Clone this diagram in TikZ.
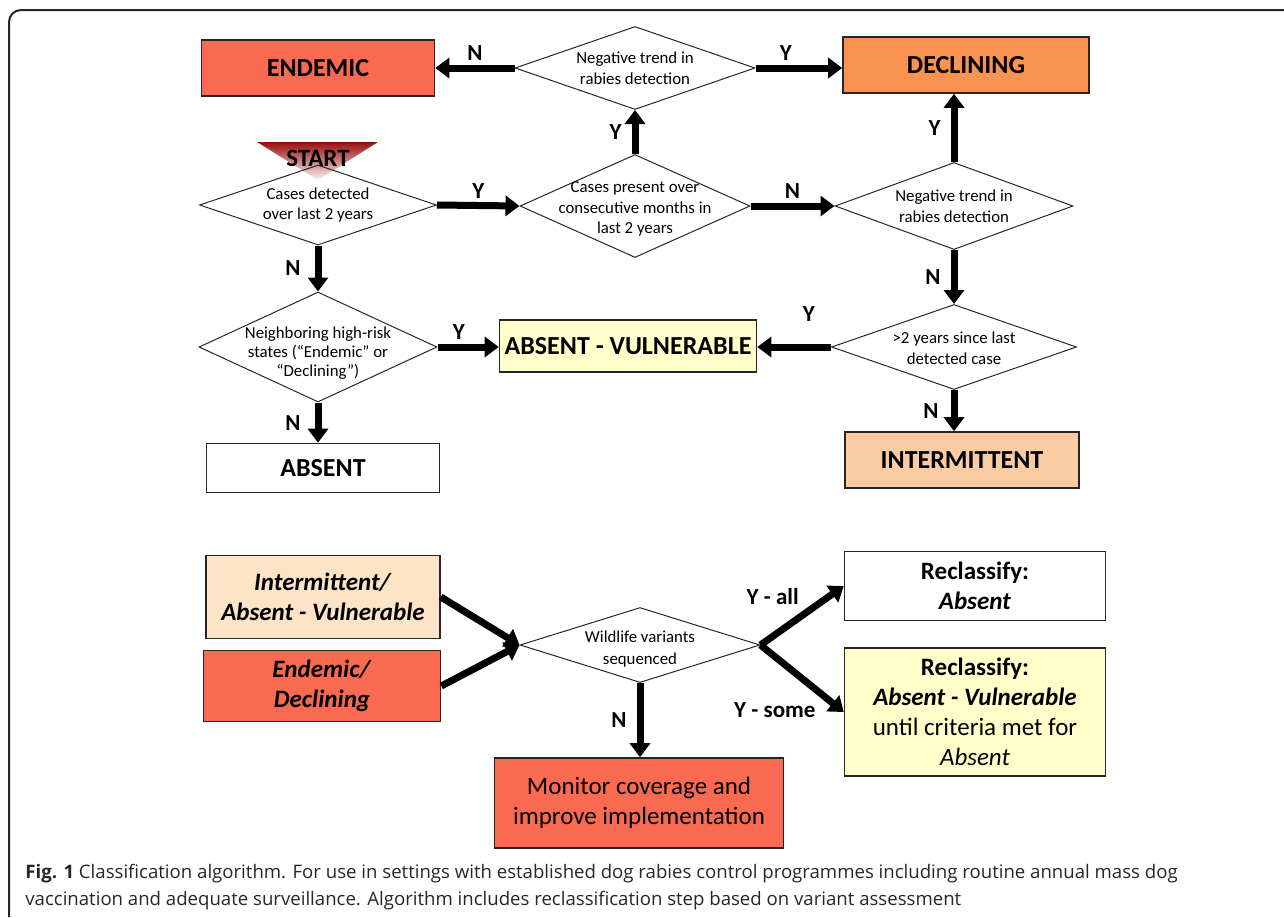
\documentclass[tikz,border=0pt]{standalone}
\usepackage{fontspec}
\setmainfont{Carlito}
\newfontfamily\capfont{Open Sans}
\usetikzlibrary{shapes.geometric,arrows.meta}
\definecolor{endemred}{RGB}{250,106,80}
\definecolor{declorange}{RGB}{250,146,80}
\definecolor{intpeach}{RGB}{251,204,164}
\definecolor{avyellow}{RGB}{255,255,204}
\definecolor{lightpeach}{RGB}{253,228,198}
\definecolor{startred}{RGB}{150,14,14}
\begin{document}
\begin{tikzpicture}[x=0.5pt,y=-0.5pt,
  box/.style={draw=black!85, line width=0.8pt, inner sep=0pt, align=center,
    font=\fontsize{13}{15}\selectfont\bfseries},
  bigbox/.style={box, font=\fontsize{12.5}{15}\selectfont\bfseries},
  dia/.style={draw=black!85, line width=0.5pt, shape=diamond, inner sep=0pt},
  diatext/.style={align=center, inner sep=0pt, font=\fontsize{8.4}{10.3}\selectfont},
  flow/.style={line width=3.5pt, -{Triangle[length=7pt,width=10pt]}},
  lbl/.style={font=\fontsize{11.5}{13}\selectfont\bfseries, inner sep=2pt}]
\useasboundingbox (0,0) rectangle (1284,917);
\draw[line width=1pt, black!85, rounded corners=6pt] (9,917) -- (9,10) -- (1284,10);
% start marker
\shade[top color=startred, middle color=red!75!black, bottom color=red!4]
  (257,142) -- (378,142) -- (318,180) -- cycle;
\node[font=\fontsize{12.5}{14}\selectfont\bfseries] (start) at (318,158) {START};
% decisions
\node[dia, minimum width=120pt, minimum height=41.5pt] (dtop) at (635,68) {};
\node[diatext] (dtopt) at (dtop) {Negative trend in\\rabies detection};
\node[dia, minimum width=118.5pt, minimum height=40pt] (d1) at (318,205) {};
\node[diatext] (d1t) at (d1) {Cases detected\\over last 2 years};
\node[dia, minimum width=115pt, minimum height=51.5pt] (d2) at (635,206) {};
\node[diatext] (d2t) at ([yshift=-1.5pt]d2.center) {Cases present over\\consecutive months in\\last 2 years};
\node[dia, minimum width=119pt, minimum height=43.5pt] (d3) at (954,206) {};
\node[diatext] (d3t) at (d3) {Negative trend in\\rabies detection};
\node[dia, minimum width=122.5pt, minimum height=42.5pt] (d4) at (954,347) {};
\node[diatext] (d4t) at ([yshift=-0.5pt]d4.center) {>2 years since last\\detected case};
\node[dia, minimum width=119pt, minimum height=55pt] (d5) at (318,347) {};
\node[diatext, font=\fontsize{8.4}{9.6}\selectfont] (d5t) at ([yshift=-3pt]d5.center)
  {Neighboring high-risk\\states (“Endemic” or\\“Declining”)};
% outcomes
\node[box, fill=endemred, minimum width=116.5pt, minimum height=28pt] (endemic) at (318,68) {ENDEMIC};
\node[box, fill=declorange, minimum width=123pt, minimum height=28pt] (decl) at (966,65) {DECLINING};
\node[box, fill=avyellow, minimum width=128.5pt, minimum height=26pt] (av) at (628,346) {ABSENT - VULNERABLE};
\node[box, fill=intpeach, minimum width=117pt, minimum height=28pt] (intm) at (962,460) {INTERMITTENT};
\node[box, minimum width=116.5pt, minimum height=24.5pt] (absent) at (323,468) {ABSENT};
% connectors
\draw[flow] (dtop.west) -- node[lbl, above] (lN1) {N} (endemic.east);
\draw[flow] (dtop.east) -- node[lbl, above, pos=0.35] (lY1) {Y} (decl.west |- dtop.east);
\draw[flow] (d1.east) -- node[lbl, above] (lY2) {Y} (d2.west);
\draw[flow] (d2.north) -- node[lbl, left=3pt] (lY3) {Y} (dtop.south);
\draw[flow] (d2.east) -- node[lbl, above] (lN2) {N} (d3.west);
\draw[flow] (d3.north) -- node[lbl, left=3pt] (lY4) {Y} (d3.north |- decl.south);
\draw[flow] (d3.south) -- node[lbl, left=3pt] (lN3) {N} (d4.north);
\draw[flow] (d4.west) -- node[lbl, above=9pt, pos=0.3] (lY5) {Y} (av.east |- d4.west);
\draw[flow] (d4.south) -- node[lbl, left=4pt] (lN4) {N} (d4.south |- intm.north);
\draw[flow] (d1.south) -- node[lbl, left=5pt] (lN5) {N} (d5.north);
\draw[flow] (d5.east) -- node[lbl, above, pos=0.35] (lY6) {Y} (av.west |- d5.east);
\draw[flow] (d5.south) -- node[lbl, left=5pt] (lN6) {N} (d5.south |- absent.north);
% reclassification step
\node[bigbox, fill=lightpeach, minimum width=117pt, minimum height=41.5pt] (iav) at (323,597)
  {\textit{Intermittent/}\\\textit{Absent - Vulnerable}};
\node[bigbox, fill=endemred, minimum width=118.5pt, minimum height=35.5pt] (ed) at (322,686)
  {\textit{Endemic/}\\\textit{Declining}};
\node[dia, minimum width=120pt, minimum height=37.5pt] (d6) at (640,645) {};
\node[diatext, font=\fontsize{8.4}{11}\selectfont] (d6t) at ([yshift=-2pt]d6.center) {Wildlife variants\\sequenced};
\node[bigbox, minimum width=130.5pt, minimum height=34.5pt] (r1) at (975,586)
  {Reclassify:\\\textit{Absent}};
\node[bigbox, fill=avyellow, minimum width=130.5pt, minimum height=64pt] (rav) at (975,712)
  {Reclassify:\\\textit{Absent - Vulnerable}\\\mdseries until criteria met for\\\mdseries\textit{Absent}};
\node[box, fill=endemred, minimum width=144.5pt, minimum height=45pt,
  font=\fontsize{12.5}{15}\selectfont] (mon) at (639,803)
  {Monitor coverage and\\improve implementation};
\draw[flow] (iav.east) -- (d6.west);
\draw[flow] (ed.east) -- (d6.west);
\draw[flow] (d6.east) -- node[lbl, pos=0.55, above left] (lYa) {Y - all} (r1.west);
\draw[flow] (d6.east) -- node[lbl, pos=0.75, below left] (lYs) {Y - some} (rav.west);
\draw[flow] (d6.south) -- node[lbl, left=3pt] (lN7) {N} (d6.south |- mon.north);
% caption
\node[anchor=west, align=left, inner sep=0pt, text=black!85,
  font=\capfont\fontsize{9.3}{13.5}\selectfont] (cap) at (25,887)
  {\textbf{Fig. 1} Classification algorithm. For use in settings with established dog rabies control programmes including routine annual mass dog\\
   vaccination and adequate surveillance. Algorithm includes reclassification step based on variant assessment};
\end{tikzpicture}
\end{document}
